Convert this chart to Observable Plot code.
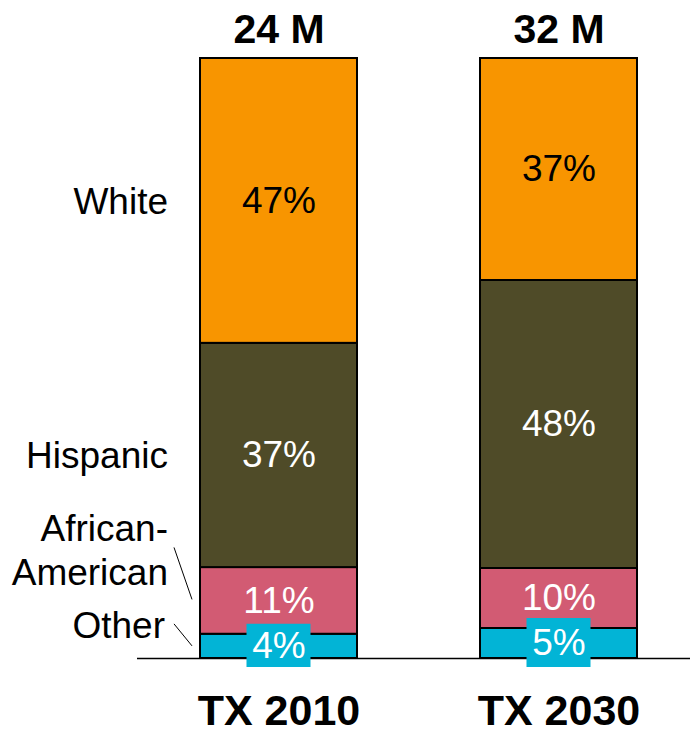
<!DOCTYPE html>
<html>
<head>
<meta charset="utf-8">
<script src="https://cdn.jsdelivr.net/npm/d3@7"></script>
<script src="https://cdn.jsdelivr.net/npm/@observablehq/plot@0.6"></script>
<style>
  html, body { margin: 0; padding: 0; background: #fff; }
  #chart svg { display: block; }
</style>
</head>
<body>
<div id="chart"></div>
<script>
// ---- data ----
const years = ["TX 2010", "TX 2030"];
const totals = ["24 M", "32 M"];
const races = ["Other", "African-American", "Hispanic", "White"];
const raceLabels = ["Other", "African-\nAmerican", "Hispanic", "White"];
const share2010 = [4, 11, 37, 47];
const share2030 = [5, 10, 48, 37];
const colors = ["#02B4D6", "#D25B73", "#4F4B28", "#F89500"];

const shares = [share2010, share2030];
const table = [];
years.forEach((yr, i) => {
  races.forEach((r, j) => {
    table.push({year: yr, race: r, label: raceLabels[j], value: shares[i][j], pct: shares[i][j] + "%"});
  });
});
const totalsTable = years.map((yr, i) => ({year: yr, total: totals[i]}));

const font = "'Liberation Sans', Arial, Helvetica, sans-serif";
const stackOpts = {x: "year", y: "value", z: "race", offset: "normalize"};

// leader lines for the two thin categories (drawn from the scales)
function leaders(index, scales, values, dimensions, context) {
  const g = d3.create("svg:g");
  const x0 = scales.x("TX 2010");
  const tot = d3.sum(share2010);
  let cum = 0;
  const mids = share2010.map(v => { const m = (cum + v / 2) / tot; cum += v; return m; });
  const spec = [
    {i: 1, dxs: -26, dys: -53, dxe: -8, dye: -1},
    {i: 0, dxs: -26, dys: -22, dxe: -8, dye: 0}
  ];
  for (const s of spec) {
    const ym = scales.y(mids[s.i]);
    g.append("line")
      .attr("x1", x0 + s.dxs).attr("y1", ym + s.dys)
      .attr("x2", x0 + s.dxe).attr("y2", ym + s.dye)
      .attr("stroke", "#000").attr("stroke-width", 1);
  }
  return g.node();
}

const plot = Plot.plot({
  width: 690,
  height: 736,
  marginLeft: 137,
  marginRight: 0,
  marginTop: 58,
  marginBottom: 78,
  style: {fontFamily: font, background: "#fff"},
  x: {domain: years, range: [199, 638], paddingInner: 0.4377, paddingOuter: 0, axis: null},
  y: {domain: [0, 1], axis: null},
  color: {domain: races, range: colors},
  marks: [
    Plot.barY(table, Plot.stackY({...stackOpts, fill: "race", stroke: "#000", strokeWidth: 2})),
    Plot.ruleY([0], {stroke: "#000", strokeWidth: 1.5}),
    Plot.barY(table, Plot.stackY({...stackOpts,
      fill: d => d.race === "Other" ? "#02B4D6" : "none",
      insetLeft: 46.5, insetRight: 46.5, insetTop: -10, insetBottom: -9})),
    Plot.text(table, Plot.stackY({...stackOpts, text: "pct",
      fill: d => d.race === "White" ? "#000" : "#fff",
      fontSize: 37, lineAnchor: "middle"})),
    // category labels next to the 2010 bar
    Plot.text(table, Plot.stackY({...stackOpts,
      text: d => d.year === "TX 2010" && (d.race === "White" || d.race === "Hispanic") ? d.label : null,
      textAnchor: "end", dx: -111, dy: 1, fontSize: 37, fill: "#000", lineAnchor: "middle"})),
    Plot.text(table, Plot.stackY({...stackOpts,
      text: d => d.year === "TX 2010" && d.race === "African-American" ? d.label : null,
      textAnchor: "end", dx: -111, dy: -52, fontSize: 37, lineHeight: 1.19, fill: "#000", lineAnchor: "middle"})),
    Plot.text(table, Plot.stackY({...stackOpts,
      text: d => d.year === "TX 2010" && d.race === "Other" ? d.label : null,
      textAnchor: "end", dx: -114, dy: -20, fontSize: 37, fill: "#000", lineAnchor: "middle"})),
    leaders,
    // totals above, years below
    Plot.text(totalsTable, {x: "year", text: "total", frameAnchor: "top", dy: -29,
      fontSize: 41, fontWeight: "bold", fill: "#000", lineAnchor: "middle"}),
    Plot.text(totalsTable, {x: "year", text: "year", frameAnchor: "bottom", dy: 53,
      fontSize: 43, fontWeight: "bold", fill: "#000", lineAnchor: "middle"})
  ]
});
document.getElementById("chart").appendChild(plot);
</script>
</body>
</html>
